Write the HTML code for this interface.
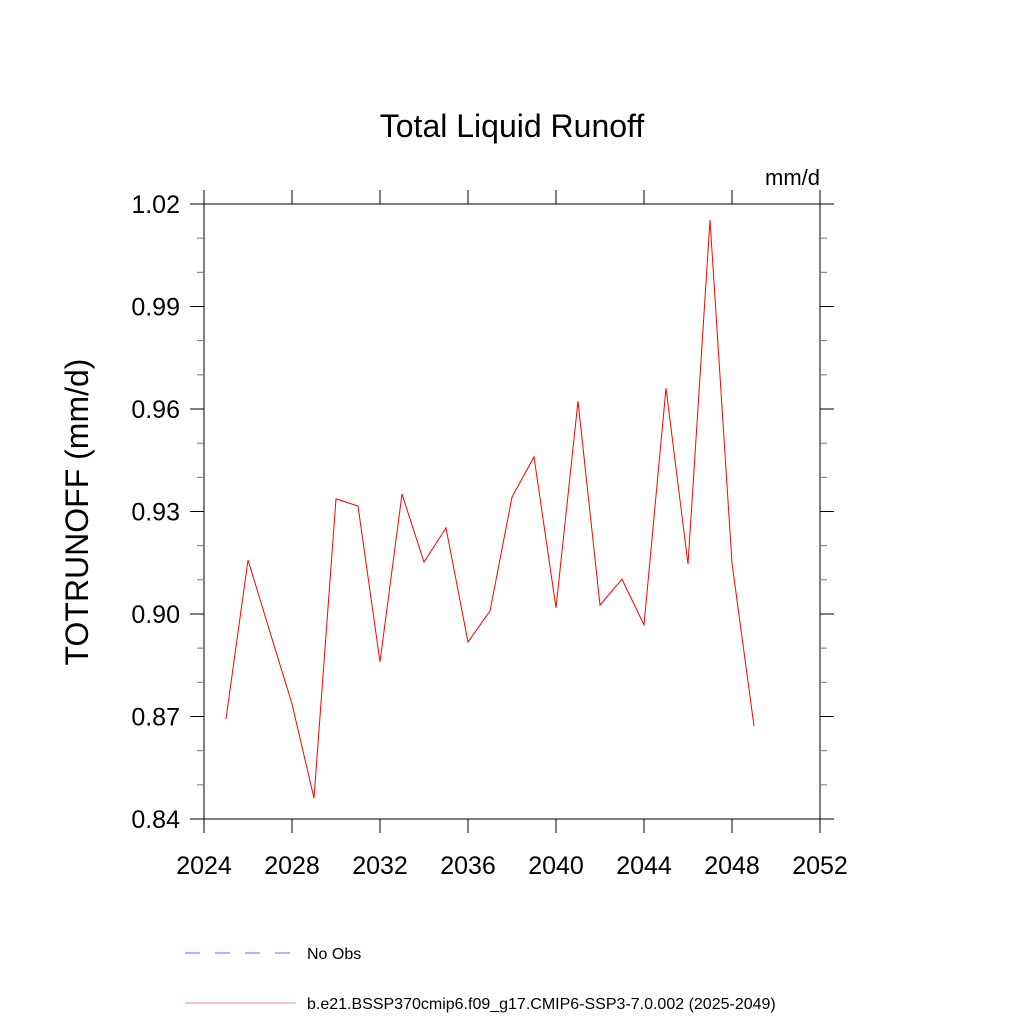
<!DOCTYPE html>
<html><head><meta charset="utf-8"><style>
body{margin:0;background:#fff}
svg{display:block;font-family:"Liberation Sans",sans-serif}
</style></head><body>
<svg id="c" width="1024" height="1024" viewBox="0 0 1024 1024">
<text x="512" y="137" font-size="32" text-anchor="middle">Total Liquid Runoff</text>
<text x="820" y="185" font-size="22" text-anchor="end">mm/d</text>
<text transform="translate(88,512) rotate(-90)" font-size="32" text-anchor="middle">TOTRUNOFF  (mm/d)</text>
<g id="axes"></g>
<g id="series"></g>
<g>
<line x1="185" y1="953" x2="293" y2="953" stroke="#6666ff" stroke-width="1" stroke-dasharray="15,15"/>
<text x="307" y="959" font-size="16">No Obs</text>
<line x1="185" y1="1003" x2="296" y2="1003" stroke="#e88" stroke-width="1"/>
<text x="307" y="1009" font-size="16">b.e21.BSSP370cmip6.f09_g17.CMIP6-SSP3-7.0.002 (2025-2049)</text>
</g>
</svg>
<script>
const years=[2025,2026,2027,2028,2029,2030,2031,2032,2033,2034,2035,2036,2037,2038,2039,2040,2041,2042,2043,2044,2045,2046,2047,2048,2049];
const runoff=[0.8693,0.9158,0.8947,0.8737,0.8461,0.9337,0.9316,0.886,0.9351,0.9152,0.9252,0.8918,0.9009,0.9342,0.946,0.9018,0.9623,0.9026,0.9102,0.8968,0.9661,0.9146,1.0153,0.9149,0.8672];
const xTicks=[2024,2028,2032,2036,2040,2044,2048,2052];
const yTicks=[0.84,0.87,0.90,0.93,0.96,0.99,1.02];
const yTickLabels=["0.84","0.87","0.90","0.93","0.96","0.99","1.02"];
const yMinor=[0.85,0.86,0.88,0.89,0.91,0.92,0.94,0.95,0.97,0.98,1.00,1.01];
const L=204,R=820,T=204,B=819,x0=2024,x1=2052,y0=0.84,y1=1.02;
const sx=v=>L+(v-x0)/(x1-x0)*(R-L);
const sy=v=>B-(v-y0)/(y1-y0)*(B-T);
const NS="http://www.w3.org/2000/svg";
function mk(p,t,a){const e=document.createElementNS(NS,t);for(const k in a)e.setAttribute(k,a[k]);p.appendChild(e);return e;}
const ax=document.getElementById('axes');
const fr=mk(ax,'rect',{x:L,y:T,width:R-L,height:B-T,fill:'none',stroke:'#000','stroke-width':1});


xTicks.forEach(v=>{const x=sx(v);
 const a=mk(ax,'line',{x1:x,y1:B,x2:x,y2:B+14,stroke:'#000'});
 
 
 const b=mk(ax,'line',{x1:x,y1:T,x2:x,y2:T-14,stroke:'#000'});
 
 
 const t=mk(ax,'text',{x:x,y:B+55,'font-size':25,'text-anchor':'middle'});t.textContent=v;
 
 
});
yTicks.forEach((v,i)=>{const y=sy(v);
 const a=mk(ax,'line',{x1:L-14,y1:y,x2:L,y2:y,stroke:'#000'});
 
 
 const b=mk(ax,'line',{x1:R,y1:y,x2:R+14,y2:y,stroke:'#000'});
 
 
 const t=mk(ax,'text',{x:L-24,y:y+9,'font-size':25,'text-anchor':'end'});t.textContent=yTickLabels[i];
 
 
});
yMinor.forEach(v=>{const y=sy(v);
 const a=mk(ax,'line',{x1:L-7,y1:y,x2:L,y2:y,stroke:'#777'});
 
 
 const b=mk(ax,'line',{x1:R,y1:y,x2:R+7,y2:y,stroke:'#777'});
 
 
});
const pl=mk(document.getElementById('series'),'polyline',{points:years.map((y,i)=>sx(y)+','+sy(runoff[i])).join(' '),fill:'none',stroke:'#f00','stroke-width':1});


</script>
</body></html>
